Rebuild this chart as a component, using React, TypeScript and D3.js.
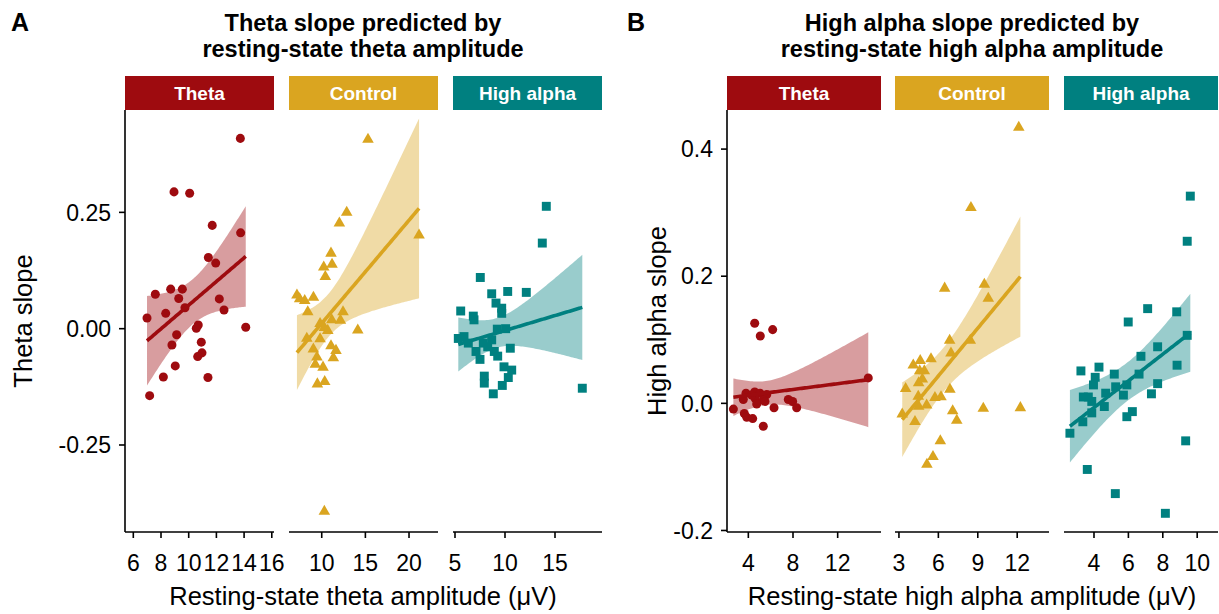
import React from "react";
import * as d3 from "d3";

// ---------- data ----------
const conditions = ["Theta", "Control", "High alpha"];
const condColors = ["#9E0B0F", "#DAA520", "#008080"];

// Panel A: theta slope vs resting-state theta amplitude
const aThetaX = [13.73, 8.94, 10.07, 11.7, 13.75, 11.42, 11.95, 7.59, 8.7, 9.54, 9.28, 12.21, 12.55, 9.73, 8.34, 6.99, 10.69, 10.55, 14.12, 9.13, 10.91, 8.79, 10.96, 10.65, 9.03, 8.17, 11.39, 7.18];
const aThetaY = [0.409, 0.294, 0.291, 0.222, 0.206, 0.153, 0.141, 0.074, 0.085, 0.085, 0.065, 0.064, 0.04, 0.045, 0.033, 0.023, 0.008, 0.001, 0.003, -0.013, -0.029, -0.035, -0.052, -0.06, -0.08, -0.104, -0.105, -0.144];
const aControlX = [15.3, 12.86, 12.02, 21.15, 11.06, 11.18, 10.23, 10.41, 7.16, 7.47, 9.05, 8.05, 8.4, 12.44, 11.15, 12.14, 9.81, 10.3, 10.69, 14.13, 8.29, 9.81, 9.04, 11.06, 11.63, 9.45, 11.33, 9.26, 10.15, 9.5, 10.34, 10.3];
const aControlY = [0.407, 0.25, 0.227, 0.201, 0.162, 0.138, 0.132, 0.112, 0.072, 0.064, 0.067, 0.06, 0.036, 0.036, 0.019, 0.018, 0.011, 0.002, -0.004, -0.003, -0.021, -0.022, -0.044, -0.037, -0.047, -0.061, -0.063, -0.077, -0.083, -0.119, -0.114, -0.393];
const aAlphaX = [14.13, 13.73, 7.53, 8.67, 10.27, 12.13, 9.1, 9.67, 9.67, 5.57, 6.83, 6.9, 9.23, 10.07, 5.33, 5.9, 6.33, 7.83, 8.67, 8.27, 10.53, 7.1, 8.93, 9.27, 7.5, 9.9, 10.67, 10.33, 7.93, 7.93, 9.73, 8.83, 17.73];
const aAlphaY = [0.263, 0.184, 0.11, 0.075, 0.08, 0.078, 0.055, 0.044, 0.033, 0.038, 0.027, 0.019, -0.001, 0.0, -0.021, -0.017, -0.031, -0.031, -0.024, -0.039, -0.042, -0.049, -0.049, -0.059, -0.066, -0.082, -0.089, -0.105, -0.102, -0.117, -0.122, -0.14, -0.128];

// Panel B: high alpha slope vs resting-state high alpha amplitude
const bThetaX = [4.57, 6.18, 5.07, 14.74, 3.79, 4.57, 5.05, 5.65, 3.55, 4.6, 5.34, 4.75, 7.58, 7.97, 8.33, 6.3, 2.66, 3.64, 3.86, 4.39, 5.34, 4.3, 5.49];
const bThetaY = [0.126, 0.116, 0.106, 0.04, 0.016, 0.018, 0.016, 0.014, 0.006, 0.008, 0.005, -0.001, 0.006, 0.003, -0.007, -0.007, -0.009, -0.016, -0.022, -0.024, -0.036, 0.013, 0.003];
const bControlX = [12.12, 8.48, 6.48, 9.5, 9.8, 6.86, 8.43, 6.96, 5.44, 4.62, 4.09, 4.58, 4.93, 4.5, 4.78, 3.51, 6.88, 4.47, 5.74, 6.2, 4.5, 5.11, 3.25, 7.09, 9.42, 12.24, 4.22, 7.4, 6.15, 5.59, 5.13];
const bControlY = [0.434, 0.308, 0.181, 0.187, 0.165, 0.099, 0.099, 0.079, 0.07, 0.067, 0.06, 0.051, 0.051, 0.032, 0.038, 0.023, 0.022, 0.011, 0.009, 0.01, -0.005, -0.003, -0.017, -0.012, -0.008, -0.007, -0.029, -0.027, -0.059, -0.084, -0.096];
const bAlphaX = [9.6, 9.42, 7.12, 8.81, 5.99, 9.42, 7.7, 6.73, 8.83, 6.62, 3.24, 4.29, 5.18, 4.07, 3.97, 5.91, 7.7, 4.68, 5.26, 3.38, 3.67, 5.71, 7.34, 3.87, 4.6, 3.87, 6.23, 5.91, 3.35, 2.6, 9.33, 3.61, 5.24, 8.15];
const bAlphaY = [0.326, 0.255, 0.149, 0.144, 0.128, 0.107, 0.089, 0.074, 0.06, 0.046, 0.051, 0.057, 0.046, 0.041, 0.029, 0.029, 0.031, 0.016, 0.026, 0.01, 0.01, 0.013, 0.015, 0.003, -0.005, -0.015, -0.013, -0.021, -0.029, -0.047, -0.059, -0.104, -0.142, -0.173];

// axis ticks
const aYTicks = [-0.25, 0, 0.25];
const aYTickLabels = ["-0.25", "0.00", "0.25"];
const bYTicks = [-0.2, 0, 0.2, 0.4];
const bYTickLabels = ["-0.2", "0.0", "0.2", "0.4"];
const aXTicks = [[6, 8, 10, 12, 14, 16], [10, 15, 20], [5, 10, 15]];
const bXTicks = [[4, 8, 12], [3, 6, 9, 12], [4, 6, 8, 10]];
const aXDomains = [[5.4, 16.16], [6.25, 23.32], [4.8, 19.7]];
const bXDomains = [[2.09, 15.88], [2.7, 14.42], [2.256, 11.21]];
const aYDomain = [-0.437, 0.47];
const bYDomain = [-0.2024, 0.4615];

// ---------- layout ----------
const W = 1219;
const H = 614;
const TOP = 110;
const BOTTOM = 532;
const STRIP_TOP = 76;
const FONT = "'Liberation Sans', Arial, Helvetica, sans-serif";
const TICK_FS = 23;
const AXIS_FS = 25.5;
const TITLE_FS = 23.5;
const STRIP_FS = 19;
const aFacetX = [[125, 274], [289, 438], [453, 602]];
const bFacetX = [[727, 881], [895, 1049], [1064, 1218]];

// ---------- stats ----------
function tq975(df: number) {
  const z = 1.959964;
  return z + (z ** 3 + z) / (4 * df) + (5 * z ** 5 + 16 * z ** 3 + 3 * z) / (96 * df * df) +
    (3 * z ** 7 + 19 * z ** 5 + 17 * z ** 3 - 15 * z) / (384 * df ** 3);
}

function lmFit(xs: number[], ys: number[], n = 80) {
  const N = xs.length;
  const mx = d3.mean(xs) as number;
  const my = d3.mean(ys) as number;
  let sxx = 0, sxy = 0;
  for (let i = 0; i < N; i++) {
    sxx += (xs[i] - mx) ** 2;
    sxy += (xs[i] - mx) * (ys[i] - my);
  }
  const b = sxy / sxx;
  const a = my - b * mx;
  let sse = 0;
  for (let i = 0; i < N; i++) sse += (ys[i] - a - b * xs[i]) ** 2;
  const s = Math.sqrt(sse / (N - 2));
  const t = tq975(N - 2);
  const [x0, x1] = d3.extent(xs) as [number, number];
  return d3.range(n).map((i) => {
    const x = x0 + ((x1 - x0) * i) / (n - 1);
    const yh = a + b * x;
    const se = s * Math.sqrt(1 / N + (x - mx) ** 2 / sxx);
    return { x, y: yh, lo: yh - t * se, hi: yh + t * se };
  });
}

type FacetProps = {
  id: string;
  px: number[];
  xDomain: number[];
  xTicks: number[];
  yDomain: number[];
  xs: number[];
  ys: number[];
  ci: number;
  shape: d3.SymbolType;
  symSize: number;
};

function Facet({ id, px, xDomain, xTicks, yDomain, xs, ys, ci, shape, symSize }: FacetProps) {
  const color = condColors[ci];
  const x = d3.scaleLinear().domain(xDomain).range(px);
  const y = d3.scaleLinear().domain(yDomain).range([BOTTOM, TOP]);
  const fit = lmFit(xs, ys);
  const area = d3.area<any>().x((d) => x(d.x)).y0((d) => y(d.lo)).y1((d) => y(d.hi))(fit) as string;
  const line = d3.line<any>().x((d) => x(d.x)).y((d) => y(d.y))(fit) as string;
  const sym = d3.symbol().type(shape).size(symSize)() as string;
  return (
    <g>
      <defs>
        <clipPath id={id}>
          <rect x={px[0]} y={TOP} width={px[1] - px[0]} height={BOTTOM - TOP} />
        </clipPath>
      </defs>
      <rect x={px[0]} y={STRIP_TOP} width={px[1] - px[0]} height={TOP - STRIP_TOP} fill={color} />
      <text x={(px[0] + px[1]) / 2} y={100} textAnchor="middle" fill="#fff" fontWeight="bold" fontSize={STRIP_FS} fontFamily={FONT}>
        {conditions[ci]}
      </text>
      <g clipPath={`url(#${id})`}>
        <path d={area} fill={color} fillOpacity={0.4} />
        {xs.map((v, i) => (
          <path key={i} d={sym} transform={`translate(${x(v)},${y(ys[i])})`} fill={color} />
        ))}
        <path d={line} fill="none" stroke={color} strokeWidth={3.6} />
      </g>
      <line x1={px[0]} x2={px[1]} y1={BOTTOM} y2={BOTTOM} stroke="#000" strokeWidth={1.6} />
      {xTicks.map((t) => (
        <g key={t}>
          <line x1={x(t)} x2={x(t)} y1={BOTTOM} y2={BOTTOM + 6} stroke="#000" strokeWidth={1.6} />
          <text x={x(t)} y={571} textAnchor="middle" fontSize={TICK_FS} fontFamily={FONT} fill="#000">
            {t}
          </text>
        </g>
      ))}
    </g>
  );
}

function YAxis({ x0, domain, ticks, labels }: { x0: number; domain: number[]; ticks: number[]; labels: string[] }) {
  const y = d3.scaleLinear().domain(domain).range([BOTTOM, TOP]);
  return (
    <g>
      <line x1={x0} x2={x0} y1={TOP} y2={BOTTOM} stroke="#000" strokeWidth={1.6} />
      {ticks.map((t, i) => (
        <g key={t}>
          <line x1={x0 - 6} x2={x0} y1={y(t)} y2={y(t)} stroke="#000" strokeWidth={1.6} />
          <text x={x0 - 14} y={y(t)} dy="0.36em" textAnchor="end" fontSize={TICK_FS} fontFamily={FONT} fill="#000">
            {labels[i]}
          </text>
        </g>
      ))}
    </g>
  );
}

const shapes = [d3.symbolCircle, d3.symbolTriangle, d3.symbolSquare];
const symSizes = [64, 58, 80];

export default function App() {
  const aXs = [aThetaX, aControlX, aAlphaX];
  const aYs = [aThetaY, aControlY, aAlphaY];
  const bXs = [bThetaX, bControlX, bAlphaX];
  const bYs = [bThetaY, bControlY, bAlphaY];
  return (
    <div style={{ position: "absolute", left: 0, top: 0 }}>
      <svg width={W} height={H} style={{ display: "block", background: "#fff" }}>
        {/* Panel A */}
        <text x={11} y={31} fontSize={25} fontWeight="bold" fontFamily={FONT}>A</text>
        <text x={363} y={31} textAnchor="middle" fontSize={TITLE_FS} fontWeight="bold" fontFamily={FONT}>Theta slope predicted by</text>
        <text x={363} y={57} textAnchor="middle" fontSize={TITLE_FS} fontWeight="bold" fontFamily={FONT}>resting-state theta amplitude</text>
        {aFacetX.map((px, i) => (
          <Facet key={"a" + i} id={"clipA" + i} px={px} xDomain={aXDomains[i]} xTicks={aXTicks[i]} yDomain={aYDomain}
            xs={aXs[i]} ys={aYs[i]} ci={i} shape={shapes[i]} symSize={symSizes[i]} />
        ))}
        <YAxis x0={125} domain={aYDomain} ticks={aYTicks} labels={aYTickLabels} />
        <text transform={`translate(32,${(TOP + BOTTOM) / 2}) rotate(-90)`} textAnchor="middle" fontSize={AXIS_FS} fontFamily={FONT}>Theta slope</text>
        <text x={363} y={605} textAnchor="middle" fontSize={AXIS_FS} fontFamily={FONT}>Resting-state theta amplitude (μV)</text>

        {/* Panel B */}
        <text x={627} y={31} fontSize={25} fontWeight="bold" fontFamily={FONT}>B</text>
        <text x={972} y={31} textAnchor="middle" fontSize={TITLE_FS} fontWeight="bold" fontFamily={FONT}>High alpha slope predicted by</text>
        <text x={972} y={57} textAnchor="middle" fontSize={TITLE_FS} fontWeight="bold" fontFamily={FONT}>resting-state high alpha amplitude</text>
        {bFacetX.map((px, i) => (
          <Facet key={"b" + i} id={"clipB" + i} px={px} xDomain={bXDomains[i]} xTicks={bXTicks[i]} yDomain={bYDomain}
            xs={bXs[i]} ys={bYs[i]} ci={i} shape={shapes[i]} symSize={symSizes[i]} />
        ))}
        <YAxis x0={727} domain={bYDomain} ticks={bYTicks} labels={bYTickLabels} />
        <text transform={`translate(666,${(TOP + BOTTOM) / 2}) rotate(-90)`} textAnchor="middle" fontSize={AXIS_FS} fontFamily={FONT}>High alpha slope</text>
        <text x={972} y={605} textAnchor="middle" fontSize={AXIS_FS} fontFamily={FONT}>Resting-state high alpha amplitude (μV)</text>
      </svg>
    </div>
  );
}
